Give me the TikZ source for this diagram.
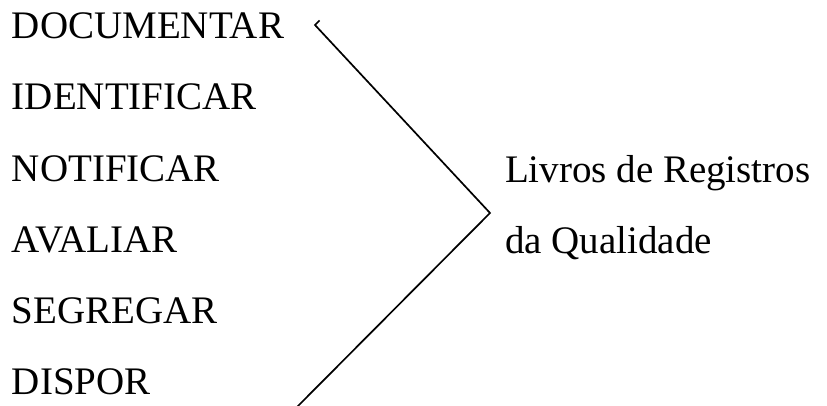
\documentclass[tikz,border=0pt]{standalone}
\usepackage{fontspec}
\setmainfont{Liberation Serif}
\begin{document}
\begin{tikzpicture}[x=1pt,y=1pt,
  lbl/.style={anchor=base west,inner sep=0pt,outer sep=0pt,font=\fontsize{39}{46}\selectfont},
  brace/.style={line width=1.7pt,line join=miter,line cap=butt}]
\useasboundingbox (0,0) rectangle (827,405);
\node[lbl] (doc) at (12,405-39) {DOCUMENTAR};
\node[lbl] (ide) at (12,405-110) {IDENTIFICAR};
\node[lbl] (not) at (12,405-181) {NOTIFICAR};
\node[lbl] (ava) at (12,405-252) {AVALIAR};
\node[lbl] (seg) at (12,405-323) {SEGREGAR};
\node[lbl] (dis) at (12,405-394) {DISPOR};
\node[lbl] (liv) at (505,405-182) {Livros de Registros};
\node[lbl] (qua) at (505,405-253) {da Qualidade};
\coordinate (h0) at (319.5,405-20.5);
\coordinate (h1) at (315,405-25);
\coordinate (v) at (490,405-213);
\coordinate (e) at (297,405-407);
\draw[brace] (h0) -- (h1) -- (v) -- (e);
\end{tikzpicture}
\end{document}
